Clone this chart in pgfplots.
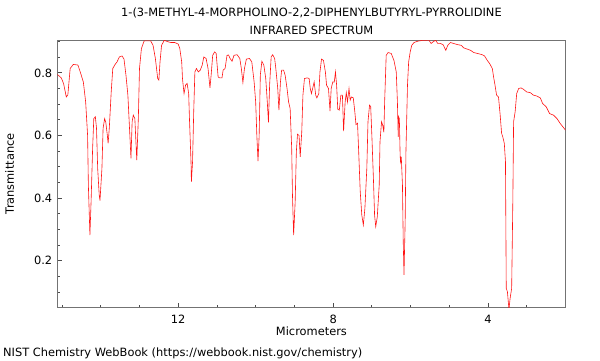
\documentclass[border=0pt]{standalone}
\usepackage{pgfplots}
\pgfplotsset{compat=1.18}
\usepackage{fontspec}
\setmainfont{DejaVu Sans}
\definecolor{spec}{RGB}{255,20,20}
\begin{document}
\begin{tikzpicture}[x=1pt,y=1pt]
\path[use as bounding box] (0,0) rectangle (600,360);
\begin{axis}[
  at={(57.4pt,52.3pt)}, anchor=south west,
  width=508.1pt, height=267.7pt, scale only axis,
  x dir=reverse, xmin=2.0, xmax=15.12, ymin=0.05, ymax=0.905,
  xtick={4,8,12}, minor xtick={3,5,6,7,9,10,11,13,14,15},
  ytick={0.2,0.4,0.6,0.8},
  minor ytick={0.1,0.15,0.25,0.3,0.35,0.45,0.5,0.55,0.65,0.7,0.75,0.85,0.9},
  tick align=inside, xtick pos=lower, ytick pos=left,
  major tick length=5pt, minor tick length=3pt,
  tick style={black!70, line width=0.8pt},
  axis line style={black!55, line width=1pt},
  /pgf/number format/assume math mode=true,
  yticklabel style={/pgf/number format/fixed, /pgf/number format/precision=1, /pgf/number format/fixed zerofill, xshift=-1.7pt},
  xticklabel style={anchor=base, yshift=-15.3pt},
  ticklabel style={font=\fontsize{11.4}{13}\selectfont},
  xlabel={Micrometers},
  xlabel style={at={(axis description cs:0.5,-0.1057)}, anchor=base, font=\fontsize{11.4}{13}\selectfont},
  ylabel={Transmittance},
  ylabel style={at={(axis description cs:-0.0854,0.5)}, anchor=base, rotate=0, font=\fontsize{11.4}{13}\selectfont},
  title={1-(3-METHYL-4-MORPHOLINO-2,2-DIPHENYLBUTYRYL-PYRROLIDINE\\INFRARED SPECTRUM},
  title style={at={(axis description cs:0.5,1)}, anchor=south, align=center, inner sep=0pt, yshift=-0.5pt, font=\fontsize{11.4}{17.5}\selectfont},
]
\addplot[spec, line width=0.6pt] coordinates {
(15.12,0.795) (15.02,0.784) (14.96,0.766) (14.89,0.723) (14.85,0.730) (14.79,0.814)
(14.71,0.827) (14.59,0.825) (14.53,0.803) (14.45,0.771) (14.39,0.707) (14.34,0.600)
(14.32,0.440) (14.28,0.282) (14.25,0.389) (14.21,0.560) (14.18,0.654) (14.14,0.660)
(14.11,0.623) (14.08,0.495) (14.04,0.410) (14.02,0.392) (13.97,0.495) (13.94,0.623)
(13.90,0.654) (13.87,0.642) (13.83,0.600) (13.81,0.575) (13.78,0.623) (13.73,0.740)
(13.69,0.814) (13.63,0.827) (13.58,0.835) (13.52,0.851) (13.45,0.854) (13.40,0.844)
(13.35,0.793) (13.30,0.729) (13.27,0.654) (13.22,0.527) (13.19,0.644) (13.16,0.665)
(13.12,0.654) (13.07,0.521) (13.03,0.654) (13.00,0.814) (12.95,0.878) (12.88,0.902)
(12.71,0.902) (12.65,0.888) (12.59,0.846) (12.53,0.782) (12.50,0.777) (12.47,0.835)
(12.43,0.888) (12.36,0.904) (12.28,0.900) (12.19,0.897) (12.09,0.897) (12.00,0.892)
(11.96,0.878) (11.91,0.835) (11.89,0.782) (11.85,0.734) (11.81,0.761) (11.77,0.766)
(11.73,0.734) (11.71,0.654) (11.67,0.516) (11.66,0.452) (11.63,0.516) (11.60,0.676)
(11.57,0.803) (11.53,0.814) (11.48,0.803) (11.43,0.809) (11.38,0.825) (11.34,0.851)
(11.28,0.846) (11.23,0.814) (11.18,0.752) (11.15,0.793) (11.11,0.856) (11.06,0.867)
(11.02,0.862) (10.97,0.787) (10.93,0.784) (10.87,0.784) (10.84,0.809) (10.79,0.814)
(10.74,0.856) (10.70,0.857) (10.66,0.846) (10.61,0.837) (10.56,0.856) (10.48,0.858)
(10.41,0.846) (10.37,0.814) (10.33,0.769) (10.29,0.814) (10.24,0.844) (10.16,0.846)
(10.10,0.835) (10.04,0.771) (10.00,0.707) (9.97,0.600) (9.94,0.518) (9.91,0.600)
(9.88,0.793) (9.84,0.837) (9.79,0.825) (9.74,0.782) (9.70,0.707) (9.67,0.642)
(9.64,0.761) (9.60,0.851) (9.56,0.858) (9.51,0.846) (9.48,0.814) (9.43,0.750)
(9.40,0.681) (9.36,0.771) (9.33,0.809) (9.28,0.809) (9.24,0.793) (9.19,0.750)
(9.15,0.707) (9.11,0.686) (9.07,0.559) (9.05,0.410) (9.02,0.282) (8.98,0.389)
(8.95,0.548) (8.92,0.604) (8.88,0.600) (8.85,0.532) (8.81,0.612) (8.78,0.729)
(8.74,0.782) (8.67,0.784) (8.62,0.782) (8.59,0.750) (8.56,0.734) (8.52,0.755)
(8.49,0.771) (8.45,0.729) (8.42,0.720) (8.37,0.734) (8.34,0.803) (8.30,0.844)
(8.25,0.840) (8.20,0.803) (8.17,0.761) (8.12,0.750) (8.08,0.678) (8.05,0.750)
(8.01,0.771) (7.97,0.771) (7.94,0.803) (7.91,0.761) (7.88,0.684) (7.84,0.681)
(7.80,0.729) (7.76,0.729) (7.73,0.614) (7.69,0.707) (7.66,0.737) (7.63,0.707)
(7.59,0.750) (7.56,0.713) (7.53,0.723) (7.48,0.720) (7.44,0.676) (7.41,0.635)
(7.37,0.639) (7.34,0.548) (7.30,0.420) (7.26,0.346) (7.22,0.314) (7.18,0.367)
(7.13,0.495) (7.10,0.644) (7.06,0.697) (7.03,0.692) (7.00,0.600) (6.96,0.463)
(6.93,0.346) (6.90,0.309) (6.86,0.340) (6.81,0.442) (6.79,0.580) (6.75,0.644)
(6.72,0.633) (6.69,0.610) (6.67,0.707) (6.63,0.856) (6.58,0.865) (6.50,0.862)
(6.43,0.840) (6.37,0.803) (6.34,0.707) (6.32,0.596) (6.31,0.660) (6.29,0.654)
(6.27,0.537) (6.26,0.516) (6.24,0.532) (6.21,0.442) (6.19,0.261) (6.17,0.155)
(6.14,0.325) (6.12,0.548) (6.08,0.761) (6.05,0.835) (6.01,0.867) (5.97,0.888)
(5.91,0.897) (5.82,0.901) (5.69,0.904) (5.59,0.904) (5.53,0.905) (5.47,0.894)
(5.40,0.901) (5.35,0.904) (5.30,0.894) (5.23,0.894) (5.16,0.890) (5.09,0.872)
(5.04,0.888) (4.97,0.897) (4.89,0.894) (4.78,0.890) (4.69,0.888) (4.63,0.880)
(4.54,0.876) (4.45,0.872) (4.37,0.865) (4.27,0.862) (4.15,0.858) (4.09,0.854)
(4.02,0.840) (3.96,0.830) (3.89,0.814) (3.85,0.782) (3.82,0.761) (3.78,0.729)
(3.73,0.723) (3.69,0.670) (3.65,0.607) (3.62,0.596) (3.58,0.575) (3.55,0.516)
(3.53,0.112) (3.50,0.101) (3.46,0.045) (3.43,0.080) (3.39,0.112) (3.36,0.389)
(3.34,0.644) (3.30,0.676) (3.26,0.734) (3.21,0.750) (3.15,0.752) (3.09,0.748)
(3.00,0.739) (2.91,0.737) (2.83,0.729) (2.74,0.726) (2.65,0.720) (2.59,0.702)
(2.50,0.692) (2.41,0.670) (2.31,0.665) (2.22,0.654) (2.14,0.639) (2.05,0.625)
(2.00,0.617)
};
\end{axis}
\node[anchor=base west, inner sep=0pt, font=\fontsize{11.4}{13}\selectfont] at (3,4) {NIST Chemistry WebBook (https://webbook.nist.gov/chemistry)};
\end{tikzpicture}
\end{document}
